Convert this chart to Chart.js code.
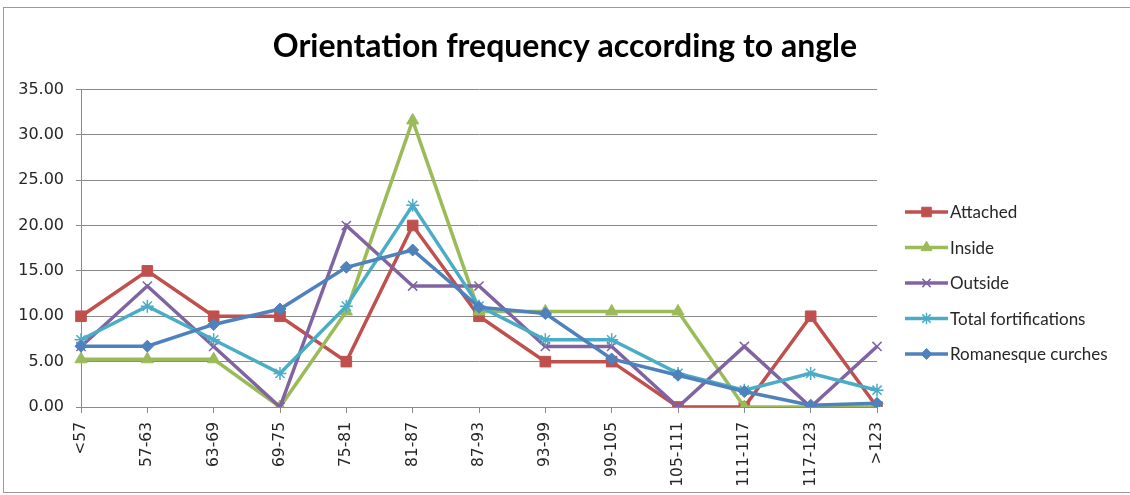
<!DOCTYPE html>
<html>
<head>
<meta charset="utf-8">
<script src="https://cdn.jsdelivr.net/npm/chart.js@4.4.1/dist/chart.umd.min.js"></script>
<style>
  html, body { margin: 0; padding: 0; background: #fff; }
  #wrap { position: relative; width: 1130px; height: 495px; }
  canvas { display: block; }
</style>
</head>
<body>
<div id="wrap"><canvas id="c" width="1130" height="495"></canvas></div>
<script>
// Angle classes (degrees)
const categories = ['<57', '57-63', '63-69', '69-75', '75-81', '81-87', '87-93', '93-99', '99-105', '105-111', '111-117', '117-123', '>123'];

// Frequency (%) per angle class
const attached      = [10.00, 15.00, 10.00, 10.00, 5.00, 20.00, 10.00, 5.00, 5.00, 0.00, 0.00, 10.00, 0.00];
const inside        = [5.26, 5.26, 5.26, 0.00, 10.53, 31.58, 10.53, 10.53, 10.53, 10.53, 0.00, 0.00, 0.00];
const outside       = [6.67, 13.33, 6.67, 0.00, 20.00, 13.33, 13.33, 6.67, 6.67, 0.00, 6.67, 0.00, 6.67];
const totalFort     = [7.41, 11.11, 7.41, 3.70, 11.11, 22.22, 11.11, 7.41, 7.41, 3.70, 1.85, 3.70, 1.85];
const romanesque    = [6.70, 6.70, 9.10, 10.80, 15.40, 17.30, 11.00, 10.30, 5.30, 3.50, 1.70, 0.20, 0.40];

const yTicks = [0, 5, 10, 15, 20, 25, 30, 35];

const seriesNames = ['Attached', 'Inside', 'Outside', 'Total fortifications', 'Romanesque curches'];
const seriesColors = ['#C0504D', '#9BBB59', '#8064A2', '#4BACC6', '#4F81BD'];
const seriesStyles = ['rect', 'triangle', 'crossRot', 'star', 'rectRot'];
const seriesRadius = [7.5, 7, 6.5, 6.5, 6];
const seriesData = [attached, inside, outside, totalFort, romanesque];

const FONT = 'Lato, "Open Sans", sans-serif';
const TEXT = '#262626';

const datasets = seriesData.map((d, i) => ({
  label: seriesNames[i],
  data: d,
  borderColor: seriesColors[i],
  backgroundColor: seriesColors[i],
  borderWidth: 3.5,
  pointStyle: seriesStyles[i],
  pointRadius: seriesRadius[i],
  pointBorderWidth: (seriesStyles[i] === 'crossRot' || seriesStyles[i] === 'star') ? 1.5 : 1,
  pointBorderColor: seriesColors[i],
  pointBackgroundColor: seriesColors[i],
  tension: 0,
  order: seriesData.length - i
}));

// Side legend: short line with marker, then the series name
const sideLegend = {
  id: 'sideLegend',
  afterDraw(chart) {
    const ctx = chart.ctx;
    const x0 = 905, x1 = 948, yStart = 212, step = 35.5;
    ctx.save();
    datasets.forEach((ds, i) => {
      const y = yStart + i * step;
      ctx.strokeStyle = ds.borderColor;
      ctx.fillStyle = ds.borderColor;
      ctx.lineWidth = 3.5;
      ctx.beginPath();
      ctx.moveTo(x0, y);
      ctx.lineTo(x1, y);
      ctx.stroke();
      ctx.lineWidth = ds.pointBorderWidth;
      Chart.helpers.drawPoint(ctx, {
        pointStyle: ds.pointStyle,
        radius: ds.pointRadius * 0.9,
        borderWidth: ds.pointBorderWidth
      }, (x0 + x1) / 2, y);
      ctx.fillStyle = TEXT;
      ctx.font = '17px ' + FONT;
      ctx.textBaseline = 'middle';
      ctx.textAlign = 'left';
      ctx.fillText(ds.label, x1 + 2, y + 1);
    });
    ctx.restore();
  }
};

// Thin frame around the whole chart
const frame = {
  id: 'frame',
  beforeDraw(chart) {
    const ctx = chart.ctx;
    ctx.save();
    ctx.fillStyle = '#fff';
    ctx.fillRect(0, 0, chart.width, chart.height);
    ctx.strokeStyle = '#9a9a9a';
    ctx.lineWidth = 1;
    ctx.strokeRect(3.5, 7.5, 1140, 485);
    ctx.restore();
  }
};

new Chart(document.getElementById('c'), {
  type: 'line',
  data: { labels: categories, datasets },
  options: {
    responsive: false,
    animation: false,
    layout: { padding: 0 },
    plugins: {
      legend: { display: false },
      tooltip: { enabled: false },
      title: {
        display: true,
        text: 'Orientation frequency according to angle',
        color: '#000',
        font: { family: FONT, size: 32, weight: 'bold' },
        padding: { top: 27, bottom: 24 },
        align: 'center'
      }
    },
    scales: {
      x: {
        offset: false,
        grid: { drawOnChartArea: false, drawTicks: true, tickLength: 6, color: '#8a8a8a' },
        border: { color: '#8a8a8a', width: 1 },
        ticks: {
          autoSkip: false, maxRotation: 90, minRotation: 90, padding: 9,
          color: TEXT, font: { family: '"DejaVu Sans", sans-serif', size: 15.5 }
        },
        afterFit(scale) { scale.height = 88; }
      },
      y: {
        min: 0, max: 35,
        afterBuildTicks(scale) { scale.ticks = yTicks.map(v => ({ value: v })); },
        grid: { color: '#8a8a8a', tickLength: 5, drawTicks: true },
        border: { color: '#8a8a8a', width: 1 },
        ticks: {
          padding: 12, color: TEXT,
          font: { family: '"DejaVu Sans", sans-serif', size: 16 },
          callback: v => Number(v).toFixed(2)
        },
        afterFit(scale) { scale.width = 81; }
      },
      // empty right-hand axis that reserves room for the legend
      side: {
        position: 'right',
        display: true,
        grid: { display: false },
        border: { display: false },
        ticks: { display: false },
        afterFit(scale) { scale.width = 253; }
      }
    }
  },
  plugins: [frame, sideLegend]
});
</script>
</body>
</html>
